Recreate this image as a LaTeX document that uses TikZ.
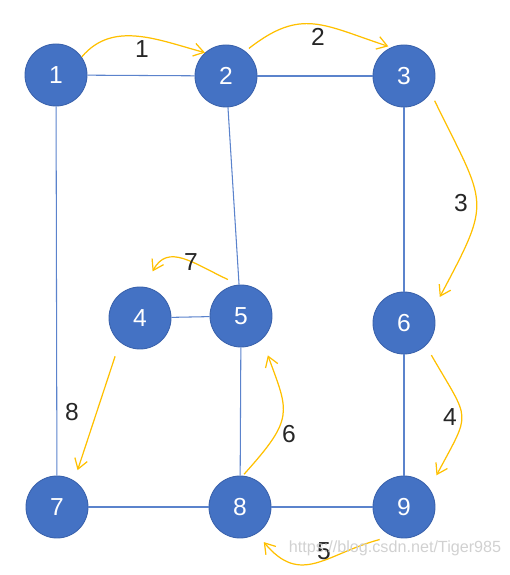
\documentclass[tikz,border=0pt]{standalone}
\usepackage{fontspec}
\setmainfont{Liberation Sans}
\usetikzlibrary{arrows.meta, positioning}

\definecolor{nodeblue}{HTML}{4472C4}
\definecolor{rimblue}{HTML}{3A62AC}
\definecolor{edgeblue}{HTML}{5B83CC}
\definecolor{walkgold}{HTML}{FFC000}

\begin{document}
\begin{tikzpicture}[
    vertex/.style={circle, draw=rimblue, line width=0.5pt, fill=nodeblue, minimum size=1.24cm, inner sep=0pt, text=white, font=\fontsize{14}{16}\selectfont},
    link/.style={draw=edgeblue, line width=0.6pt},
    walk/.style={draw=walkgold, line width=0.7pt, -{Straight Barb[length=2mm, width=2.6mm]}},
    stepno/.style={font=\fontsize{14}{16}\selectfont, text=black!85}
]

\useasboundingbox (0,0) rectangle (10.18,11.5);

% Vertices
\node[vertex] at (1.12,10.0) (n1) {1};
\node[vertex] at (4.52,9.98) (n2) {2};
\node[vertex] at (8.08,9.98) (n3) {3};
\node[vertex] at (2.80,5.14) (n4) {4};
\node[vertex] at (4.82,5.18) (n5) {5};
\node[vertex] at (8.08,5.04) (n6) {6};
\node[vertex] at (1.14,1.36) (n7) {7};
\node[vertex] at (4.80,1.36) (n8) {8};
\node[vertex] at (8.08,1.36) (n9) {9};

% Graph edges
\foreach \a/\b in {n1/n2, n2/n3, n1/n7, n2/n5, n3/n6, n4/n5, n5/n8, n6/n9, n7/n8, n8/n9} {
    \draw[link] (\a) -- (\b);
}

% Traversal order
\draw[walk] (n1.35) to[out=50, in=165] (n2.132);
\node[stepno] at (2.84,10.52) (s1) {1};

\draw[walk, shorten <=0.09cm, shorten >=0.06cm] (n2.52) to[out=38, in=162, looseness=1.25] (n3.114);
\node[stepno] at (6.36,10.76) (s2) {2};

\draw[walk, shorten <=0.18cm, shorten >=0.3cm] (n3.-32) to[out=-64, in=62, looseness=1.5] (n6.24);
\node[stepno] at (9.22,7.44) (s3) {3};

\draw[walk, shorten <=0.22cm, shorten >=0.3cm] (n6.-46) to[out=-60, in=62, looseness=1.6] (n9.36);
\node[stepno] at (9.0,3.16) (s4) {4};

\draw[walk, shorten <=0.26cm, shorten >=0.22cm] (n9.-112) to[out=195, in=-50, looseness=1.3] (n8.-58);
\node[stepno] at (6.48,0.48) (s5) {5};

\draw[walk, shorten <=0.04cm, shorten >=0.34cm] (n8.85) to[out=48, in=-70, looseness=1.45] (n5.-48);
\node[stepno] at (5.78,2.82) (s6) {6};

\draw[walk, shorten <=0.24cm, shorten >=0.35cm] (n5.94) to[out=155, in=62, looseness=1.35] (n4.82);
\node[stepno] at (3.82,6.26) (s7) {7};

\draw[walk, shorten <=0.3cm, shorten >=0.22cm] (n4.-130) -- (n7.57);
\node[stepno] at (1.44,3.26) (s8) {8};

% Watermark
\node[font=\fontsize{9.2}{11}\selectfont, text=black!18] at (7.9,0.54) (mark) {https://blog.csdn.net/Tiger985};

\end{tikzpicture}
\end{document}
